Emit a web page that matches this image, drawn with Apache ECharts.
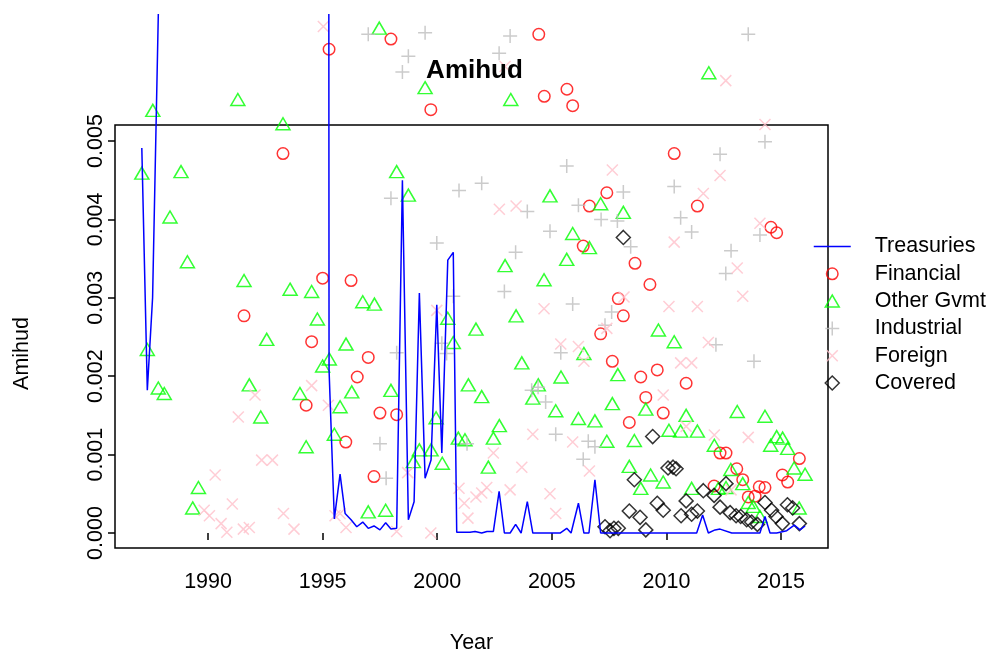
<!DOCTYPE html>
<html><head><meta charset="utf-8">
<script src="https://cdn.jsdelivr.net/npm/echarts@6/dist/echarts.min.js"></script>
<style>html,body{margin:0;padding:0;background:#fff}#c{width:994px;height:653px}</style>
</head><body><div id="c"></div>
<script>
const xTicks = [1990, 1995, 2000, 2005, 2010, 2015];
const yTicks = [0, 0.001, 0.002, 0.003, 0.004, 0.005];
const seriesNames = ['Treasuries', 'Financial', 'Other Gvmt', 'Industrial', 'Foreign', 'Covered'];

const treasuries = [[1987.11,0.00491],[1987.35,0.00182],[1987.58,0.00300],[1987.83,0.00662],[1991.5,'-'],
[1995.27,0.00662],[1995.28,0.00208],[1995.51,0.00018],[1995.76,0.00075],[1995.98,0.00025],[1996.24,0.00017],[1996.49,0.00008],[1996.75,0.00014],[1996.99,0.00006],[1997.24,0.00009],[1997.50,0.00004],[1997.75,0.00013],[1997.98,0.00005],[1998.23,0.00006],[1998.48,0.00450],[1998.74,0.00017],[1998.99,0.00040],[1999.22,0.00306],[1999.47,0.00070],[1999.73,0.00093],[1999.98,0.00291],[2000.20,0.00102],[2000.46,0.00348],[2000.70,0.00358],[2000.85,0.00001],[2001.43,0.00001],[2001.65,0.00002],[2001.94,0.00000],[2002.17,0.00002],[2002.45,0.00002],[2002.70,0.00053],[2002.93,0.00000],[2003.18,0.00000],[2003.42,0.00011],[2003.66,0.00000],[2003.93,0.00040],[2004.17,0.00000],[2005.36,0.00000],[2005.65,0.00006],[2005.84,0.00000],[2006.16,0.00038],[2006.40,0.00000],[2006.62,0.00000],[2006.88,0.00068],[2007.13,0.00000],[2011.32,0.00000],[2011.58,0.00023],[2011.83,0.00000],[2012.12,0.00004],[2012.34,0.00005],[2012.85,0.00000],[2014.08,0.00000],[2014.30,0.00021],[2014.52,0.00000],[2014.81,0.00000],[2015.25,0.00003],[2015.58,0.00010],[2015.83,0.00004],[2016.05,0.00009]];

const financial = [[1993.27,0.00484],[1995.28,0.00617],[1997.98,0.00630],[1999.72,0.00540],[2004.43,0.00636],[2004.67,0.00557],[2005.66,0.00566],[2005.91,0.00545],[2010.34,0.00484],[1991.57,0.00277],[1995.00,0.00325],[1996.24,0.00322],[1994.52,0.00244],[1996.99,0.00224],[1996.51,0.00199],[1994.28,0.00163],[1997.50,0.00153],[1998.23,0.00151],[1996.01,0.00116],[1997.24,0.00072],[2007.40,0.00434],[2006.64,0.00417],[2006.37,0.00366],[2008.63,0.00344],[2009.28,0.00317],[2007.90,0.00299],[2008.12,0.00277],[2007.13,0.00254],[2007.64,0.00219],[2011.35,0.00417],[2014.56,0.00390],[2014.81,0.00383],[2009.60,0.00208],[2008.88,0.00199],[2010.86,0.00191],[2009.10,0.00173],[2009.86,0.00153],[2008.38,0.00141],[2012.34,0.00102],[2012.60,0.00102],[2015.80,0.00095],[2013.07,0.00082],[2013.33,0.00068],[2015.06,0.00074],[2015.29,0.00065],[2012.08,0.00060],[2014.05,0.00059],[2014.30,0.00058],[2013.57,0.00046],[2013.87,0.00047]];

const otherGvmt = [[1987.59,0.00539],[1991.30,0.00553],[1993.27,0.00522],[1987.11,0.00459],[1988.82,0.00461],[1997.47,0.00644],[1999.47,0.00568],[2003.21,0.00553],[2011.85,0.00587],[1998.23,0.00461],[1998.74,0.00431],[1988.34,0.00403],[1989.10,0.00346],[1991.57,0.00322],[1993.58,0.00311],[1992.56,0.00247],[1987.35,0.00234],[1994.52,0.00308],[1996.75,0.00295],[1997.26,0.00292],[1994.77,0.00273],[1996.02,0.00241],[1995.29,0.00222],[1995.00,0.00213],[2000.46,0.00274],[2000.70,0.00243],[2001.69,0.00260],[2004.92,0.00430],[2007.13,0.00420],[2008.12,0.00409],[2005.91,0.00382],[2006.64,0.00364],[2005.65,0.00349],[2002.96,0.00341],[2004.66,0.00323],[2003.44,0.00277],[2006.40,0.00229],[2003.69,0.00217],[2009.65,0.00259],[2010.34,0.00244],[1994.01,0.00178],[1996.27,0.00180],[1997.98,0.00182],[2001.36,0.00189],[1995.76,0.00161],[1999.95,0.00147],[1995.51,0.00126],[1994.28,0.00110],[2000.92,0.00121],[2001.21,0.00119],[1999.22,0.00106],[1999.73,0.00106],[1998.96,0.00091],[2000.22,0.00089],[1996.99,0.00027],[1997.75,0.00029],[1987.83,0.00185],[1988.09,0.00178],[1991.80,0.00189],[1992.30,0.00148],[1989.58,0.00058],[1989.33,0.00032],[2005.40,0.00199],[2007.88,0.00202],[2001.94,0.00174],[2004.41,0.00189],[2004.17,0.00172],[2007.64,0.00165],[2009.10,0.00158],[2005.17,0.00156],[2006.16,0.00146],[2006.88,0.00143],[2002.71,0.00137],[2002.45,0.00121],[2007.40,0.00117],[2008.60,0.00118],[2002.23,0.00084],[2008.38,0.00085],[2008.88,0.00057],[2009.31,0.00074],[2010.86,0.00150],[2013.09,0.00155],[2014.30,0.00149],[2010.11,0.00131],[2010.62,0.00130],[2011.35,0.00130],[2012.09,0.00112],[2014.55,0.00112],[2014.81,0.00123],[2015.07,0.00121],[2015.29,0.00108],[2009.86,0.00065],[2012.81,0.00081],[2013.33,0.00063],[2015.57,0.00083],[2016.05,0.00075],[2011.10,0.00057],[2012.27,0.00057],[2012.60,0.00058],[2013.57,0.00039],[2013.79,0.00034],[2014.08,0.00021],[2015.79,0.00032]];

const industrial = [[1996.99,0.00636],[1999.47,0.00638],[1998.74,0.00608],[1998.48,0.00588],[2003.18,0.00634],[2002.70,0.00612],[2013.57,0.00636],[2014.30,0.00499],[2012.34,0.00483],[2010.34,0.00442],[2005.65,0.00468],[2001.94,0.00446],[2000.95,0.00437],[2008.12,0.00435],[1997.98,0.00427],[1999.98,0.00370],[2000.70,0.00302],[2000.20,0.00242],[2000.41,0.00229],[1998.23,0.00230],[2003.93,0.00410],[2006.16,0.00418],[2007.15,0.00400],[2007.86,0.00398],[2004.92,0.00385],[2008.44,0.00365],[2003.42,0.00358],[2002.93,0.00308],[2005.91,0.00292],[2007.61,0.00282],[2007.32,0.00265],[2005.39,0.00230],[2010.62,0.00402],[2011.10,0.00384],[2014.08,0.00380],[2012.82,0.00360],[2012.59,0.00331],[2012.16,0.00240],[2013.82,0.00219],[1997.50,0.00114],[1997.77,0.00070],[2001.30,0.00114],[2004.12,0.00182],[2004.40,0.00186],[2004.73,0.00167],[2005.17,0.00126],[2006.59,0.00117],[2006.88,0.00110],[2006.37,0.00094]];

const foreign = [[1995.03,0.00646],[2002.96,0.00595],[2012.59,0.00577],[2014.30,0.00521],[2012.34,0.00456],[2007.64,0.00463],[2011.61,0.00433],[2002.71,0.00413],[2003.44,0.00417],[2008.15,0.00301],[2004.66,0.00286],[2007.40,0.00261],[2005.39,0.00241],[2006.16,0.00238],[2006.40,0.00219],[2010.34,0.00371],[2014.08,0.00395],[2013.09,0.00338],[2013.33,0.00302],[2010.11,0.00289],[2011.35,0.00289],[2011.83,0.00243],[2010.62,0.00217],[2011.10,0.00217],[1999.98,0.00284],[1992.05,0.00176],[1991.32,0.00148],[1992.34,0.00093],[1992.81,0.00093],[1990.31,0.00074],[1989.83,0.00029],[1990.06,0.00022],[1991.06,0.00037],[1990.57,0.00012],[1990.82,0.00001],[1991.54,0.00005],[1991.80,0.00007],[1993.29,0.00025],[1993.75,0.00005],[1994.52,0.00188],[1995.25,0.00163],[1998.71,0.00077],[2000.95,0.00057],[2001.18,0.00038],[2001.34,0.00019],[1995.54,0.00022],[1995.76,0.00025],[1996.02,0.00007],[1998.23,0.00002],[1999.72,0.00000],[2004.17,0.00126],[2005.91,0.00116],[2002.45,0.00102],[2003.69,0.00084],[2006.64,0.00079],[2002.16,0.00058],[2001.94,0.00051],[2001.69,0.00046],[2003.18,0.00055],[2004.92,0.00050],[2005.17,0.00025],[2009.86,0.00176],[2010.86,0.00136],[2012.09,0.00125],[2013.57,0.00122],[2012.82,0.00055]];

const covered = [[2008.12,0.00377],[2009.40,0.00123],[2008.60,0.00068],[2008.38,0.00028],[2008.85,0.00020],[2009.10,0.00004],[2007.32,0.00008],[2007.54,0.00003],[2007.71,0.00006],[2007.90,0.00006],[2010.07,0.00083],[2010.29,0.00084],[2010.42,0.00082],[2009.60,0.00038],[2009.86,0.00029],[2010.86,0.00041],[2010.64,0.00022],[2011.10,0.00024],[2011.35,0.00028],[2011.61,0.00054],[2012.08,0.00048],[2012.60,0.00063],[2012.34,0.00033],[2012.78,0.00026],[2013.04,0.00022],[2013.24,0.00021],[2013.50,0.00017],[2013.72,0.00014],[2013.97,0.00011],[2014.30,0.00039],[2014.59,0.00029],[2014.78,0.00021],[2015.06,0.00012],[2015.28,0.00036],[2015.51,0.00032],[2015.80,0.00012]];

const FONT = '"Liberation Sans", Arial, Helvetica, sans-serif';
const LW = 1.5;
const PLUS = 'path://M0,5L10,5M5,0L5,10';
const CROSS = 'path://M0,0L10,10M10,0L0,10';
// legend icons: each path carries the full 37x14 legend box so the glyph keeps its size and centre
const BOX = 'path://M0,0M37,14';
const legendIcons = [
  BOX + 'M0,6.25L37,6.25L37,7.75L0,7.75Z',
  BOX + 'M12.75,7A5.75,5.75,0,1,1,24.25,7A5.75,5.75,0,1,1,12.75,7Z',
  BOX + 'M11.5,13L18.5,1L25.5,13Z',
  BOX + 'M11.5,7L25.5,7M18.5,0L18.5,14',
  BOX + 'M13,1.5L24,12.5M24,1.5L13,12.5',
  BOX + 'M18.5,0L25.5,7L18.5,14L11.5,7Z'
];
const hollow = c => ({ color: 'rgba(0,0,0,0)', borderColor: c, borderWidth: LW });
const FS = 21.5;
const txt = { fontFamily: FONT, fontSize: FS, color: '#000' };

const scatter = (name, data, symbol, size, color) => ({
  name, type: 'scatter', data, symbol, symbolSize: size, clip: false, silent: true,
  itemStyle: hollow(color)
});

const chart = echarts.init(document.getElementById('c'), null, { renderer: 'canvas' });
chart.setOption({
  animation: false,
  backgroundColor: '#fff',
  title: { text: 'Amihud', left: 474.5, top: 58, textAlign: 'center', padding: 0,
    textStyle: { fontFamily: FONT, fontSize: 26, fontWeight: 'bold', color: '#000' } },
  legend: {
    orient: 'vertical', left: 813, top: 235.5, padding: 0, itemWidth: 37, itemHeight: 14, itemGap: 5.3,
    selectedMode: false,
    textStyle: Object.assign({}, txt, { padding: [0, 0, 0, 19], lineHeight: FS }),
    itemStyle: { borderWidth: LW },
    data: seriesNames.map((name, i) => i === 0
      ? { name, icon: legendIcons[0], itemStyle: { color: '#0000FF', borderWidth: 0 } }
      : { name, icon: legendIcons[i] })
  },
  grid: { left: 115, top: 125, width: 713, height: 423, show: true, borderColor: '#000', borderWidth: LW,
    backgroundColor: 'transparent', outerBoundsMode: 'none' },
  xAxis: {
    type: 'value', min: 1985.94, max: 2017.05,
    name: 'Year', nameLocation: 'middle', nameGap: 84, nameTextStyle: txt,
    axisLine: { show: false }, splitLine: { show: false },
    axisTick: { show: true, length: 7, lineStyle: { color: '#000', width: LW }, customValues: xTicks },
    axisLabel: Object.assign({ customValues: xTicks, margin: 23, formatter: v => String(v) }, txt)
  },
  yAxis: {
    type: 'value', min: -0.000191, max: 0.005204,
    name: 'Amihud', nameLocation: 'middle', nameGap: 82,
    nameTextStyle: Object.assign({ padding: [0, 34, 0, 0] }, txt),
    axisLine: { show: false }, splitLine: { show: false },
    axisTick: { show: true, length: 7, lineStyle: { color: '#000', width: LW }, customValues: yTicks },
    axisLabel: Object.assign({ customValues: yTicks, margin: 8, rotate: 90, formatter: v => v.toFixed(3) }, txt)
  },
  series: [
    { name: seriesNames[0], type: 'line', data: treasuries, symbol: 'none', showSymbol: false, clip: false,
      silent: true, connectNulls: false, itemStyle: { color: '#0000FF' },
      lineStyle: { color: '#0000FF', width: LW } },
    scatter(seriesNames[1], financial, 'circle', 11.5, '#FF0000'),
    scatter(seriesNames[2], otherGvmt, 'triangle', [14, 12], '#00FF00'),
    scatter(seriesNames[3], industrial, PLUS, 14, '#BEBEBE'),
    scatter(seriesNames[4], foreign, CROSS, 11, '#FFC0CB'),
    scatter(seriesNames[5], covered, 'diamond', 14, '#000000')
  ]
});
</script></body></html>
